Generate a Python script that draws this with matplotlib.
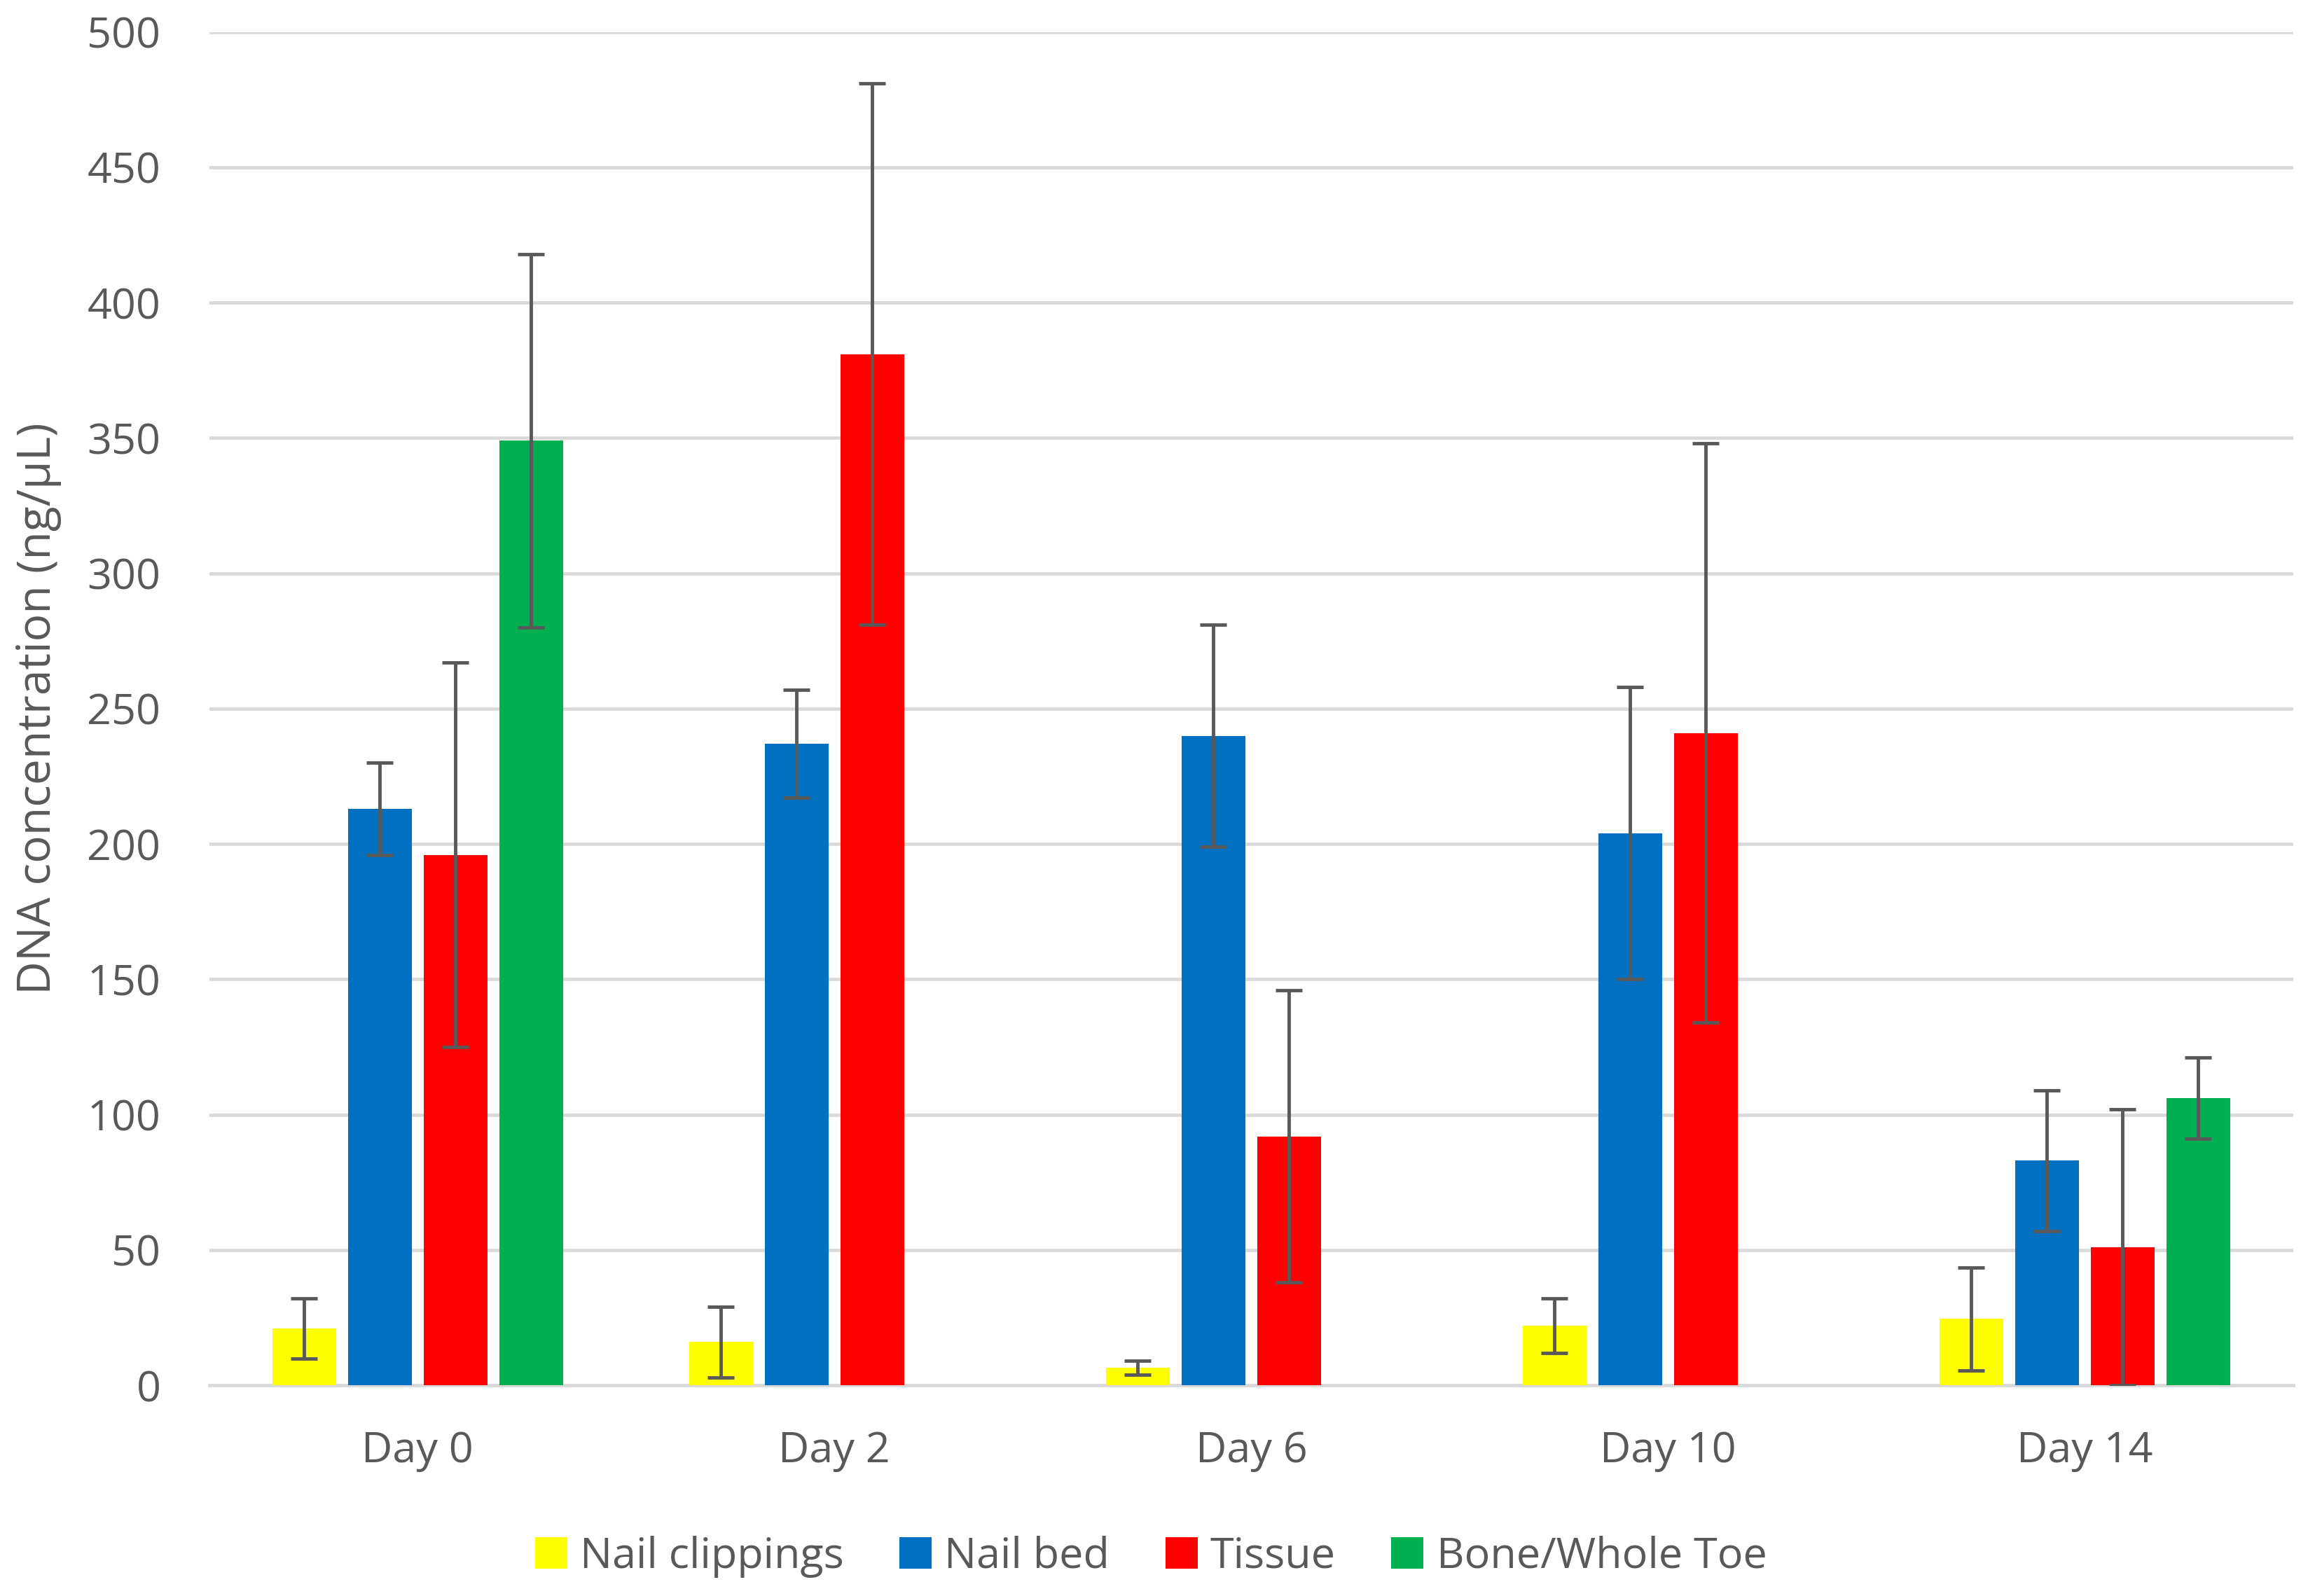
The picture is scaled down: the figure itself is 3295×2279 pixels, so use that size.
import matplotlib
matplotlib.use("Agg")
import matplotlib.pyplot as plt
import numpy as np
from matplotlib.patches import Patch

plt.rcParams['font.family'] = ['Open Sans', 'DejaVu Sans']

days = ["Day 0", "Day 2", "Day 6", "Day 10", "Day 14"]
series = ["Nail clippings", "Nail bed", "Tissue", "Bone/Whole Toe"]

nail_clippings = [21, 16, 6.5, 22, 24.5]
nail_clippings_err = [11, 13, 2.5, 10, 19]
nail_bed = [213, 237, 240, 204, 83]
nail_bed_err = [17, 20, 41, 54, 26]
tissue = [196, 381, 92, 241, 51]
tissue_err = [71, 100, 54, 107, 51]
bone = [349, np.nan, np.nan, np.nan, 106]
bone_err = [69, np.nan, np.nan, np.nan, 15]

values = [nail_clippings, nail_bed, tissue, bone]
errors = [nail_clippings_err, nail_bed_err, tissue_err, bone_err]
colors = ["#FFFF00", "#0070C0", "#FF0000", "#00B050"]

text_color = "#595959"
grid_color = "#D9D9D9"

fig = plt.figure(figsize=(32.95, 22.79), dpi=100)
ax = fig.add_axes([0.0907, 0.132, 0.9029, 0.848])

x = np.arange(len(days))
step = 0.1815
width = 0.153
for i, (vals, errs, c) in enumerate(zip(values, errors, colors)):
    pos = x + (i - 1.5) * step
    ax.bar(pos, vals, width=width, color=c, zorder=2)
    ax.errorbar(pos, vals, yerr=errs, fmt='none', ecolor="#595959",
                elinewidth=3.5, capsize=13.5, capthick=3.5, zorder=3)

ax.set_xlim(-0.5, len(days) - 0.5)
ax.set_ylim(0, 500)
ax.set_yticks(np.arange(0, 501, 50))
ax.set_xticks(x)
ax.set_xticklabels(days)
ax.yaxis.grid(True, color=grid_color, linewidth=3.4, zorder=0)
ax.set_axisbelow(True)
for s in ["top", "right", "left"]:
    ax.spines[s].set_visible(False)
ax.spines["bottom"].set_color(grid_color)
ax.spines["bottom"].set_linewidth(3.4)
ax.spines["bottom"].set_zorder(1)
ax.tick_params(axis='both', length=0, labelsize=44, labelcolor=text_color)
ax.tick_params(axis='y', pad=50)
ax.tick_params(axis='x', pad=46)

ax.set_ylabel("DNA concentration (ng/µL)", fontsize=47.5, color=text_color, labelpad=26)

handles = [Patch(facecolor=c, label=s) for c, s in zip(colors, series)]
fig.legend(handles=handles, loc='center', bbox_to_anchor=(0.4987, 0.0246), ncol=4,
           frameon=False, fontsize=44, labelcolor=text_color,
           handlelength=0.75, handleheight=0.75, handletextpad=0.3, columnspacing=1.3)

fig.savefig("out.png", dpi=100, facecolor="white")
